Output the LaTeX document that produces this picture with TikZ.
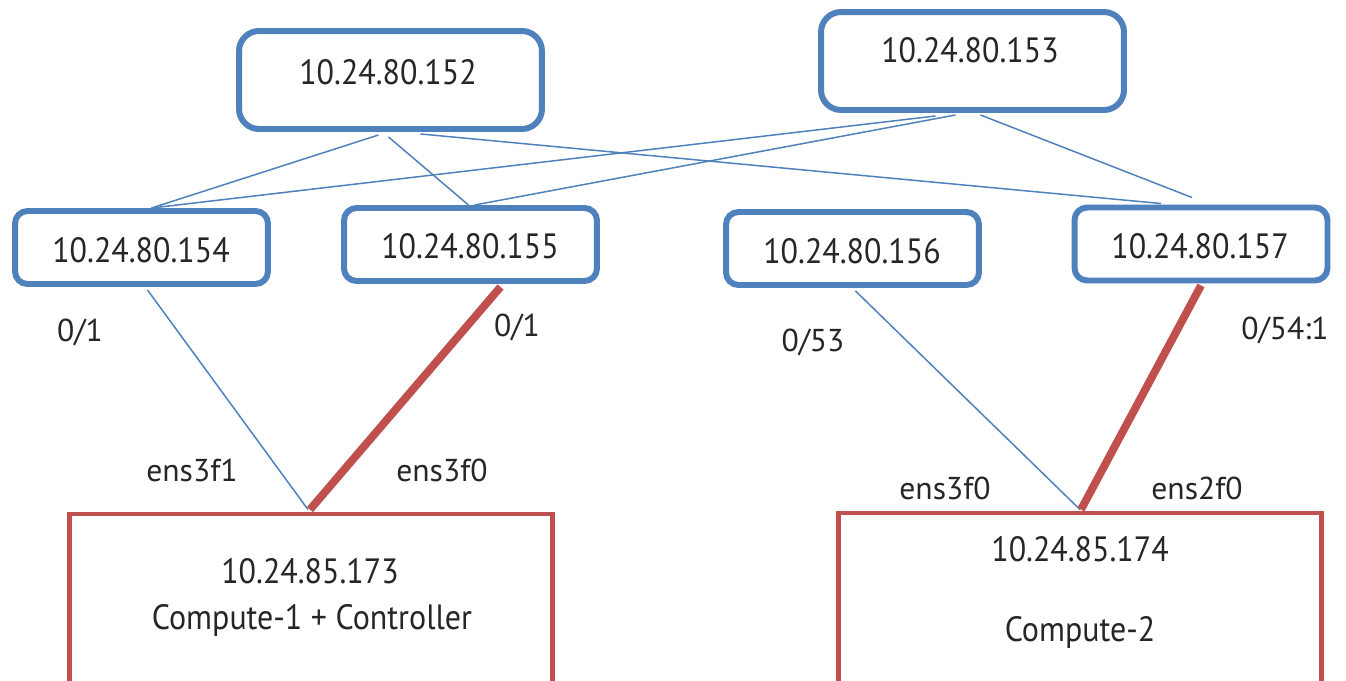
\documentclass[tikz,border=0pt]{standalone}
\usepackage{fontspec}
\setmainfont[FakeStretch=0.91]{PT Sans}
\newfontfamily\lblfont{PT Sans}
\usetikzlibrary{calc}
\definecolor{boxblue}{HTML}{4F81BD}
\definecolor{boxred}{HTML}{C0504D}
\definecolor{txt}{HTML}{262626}
\tikzset{
  swbig/.style={draw=boxblue, line width=3.4pt, rounded corners=0.4cm, fill=white, minimum width=6.06cm, minimum height=1.96cm, inner sep=0pt},
  swsmall/.style={draw=boxblue, line width=3.4pt, rounded corners=0.25cm, fill=white, minimum width=5.06cm, minimum height=1.46cm, inner sep=0pt},
  host/.style={draw=boxred, line width=2.8pt, minimum width=9.66cm, minimum height=4.12cm, inner sep=0pt},
  iptext/.style={font=\fontsize{20}{24}\selectfont, text=txt, inner sep=0pt},
  lbl/.style={font=\lblfont\fontsize{18}{22}\selectfont, text=txt, inner sep=0pt},
  thin/.style={draw=boxblue, line width=0.85pt},
  thick/.style={draw=boxred, line width=4.5pt}
}
\begin{document}
\begin{tikzpicture}[x=0.02cm,y=-0.02cm]
\useasboundingbox (0,0) rectangle (1346,680);
\clip (0,0) rectangle (1346,680);
\fill[white] (0,0) rectangle (1346,680);

% hosts
\node[host] (c1) at (311,617) {};
\node[host] (c2) at (1080,616) {};

% switches
\node[swbig] (n152) at (390.5,80) {};
\node[swbig] (n153) at (972.5,61) {};
\node[swsmall] (n154) at (141.5,247.5) {};
\node[swsmall] (n155) at (470.5,244.5) {};
\node[swsmall] (n156) at (852.5,248.5) {};
\node[swsmall] (n157) at (1201,244) {};

% top mesh
\draw[thin] ($(n152.south)+(-12,3)$) -- ($(n154.north)+(10,0)$);
\draw[thin] ($(n152.south)+(-2,5)$) -- ($(n155.north)+(-2,0)$);
\draw[thin] ($(n152.south)+(30,2)$) -- ($(n157.north)+(-40,-1)$);
\draw[thin] ($(n153.south)+(-37,3)$) -- ($(n154.north)+(10,0)$);
\draw[thin] ($(n153.south)+(-17,2)$) -- ($(n155.north)+(4,0)$);
\draw[thin] ($(n153.south)+(8,2)$) -- ($(n157.north)+(-9,-7)$);

% host links
\draw[thin] ($(n154.south)+(6,3)$) -- ($(c1.north)+(-3,-2)$);
\draw[thick] ($(n155.south)+(30,3)$) -- ($(c1.north)+(-1,-2)$);
\draw[thin] ($(n156.south)+(3,3)$) -- ($(c2.north)+(0,-1)$);
\draw[thick] ($(n157.south)+(0,2)$) -- ($(c2.north)+(1,-1)$);

% texts
\node[iptext] (t152) at (388,72) {10.24.80.152};
\node[iptext] (t153) at (970,50) {10.24.80.153};
\node[iptext] (t154) at (141,250) {10.24.80.154};
\node[iptext] (t155) at (470,246) {10.24.80.155};
\node[iptext] (t156) at (852,251) {10.24.80.156};
\node[iptext] (t157) at (1200,246) {10.24.80.157};
\node[iptext] (t173) at (310,571) {10.24.85.173};
\node[iptext] (tc1) at (312,620) {Compute-1 + Controller};
\node[iptext] (t174) at (1080,549) {10.24.85.174};
\node[iptext] (tc2) at (1080,632) {Compute-2};

% port labels
\node[lbl] (p1) at (80,332) {0/1};
\node[lbl] (p2) at (517,327) {0/1};
\node[lbl] (p3) at (813,342) {0/53};
\node[lbl] (p4) at (1285,330) {0/54:1};
\node[lbl] (e1) at (192,470) {ens3f1};
\node[lbl] (e2) at (442,470) {ens3f0};
\node[lbl] (e3) at (945,488) {ens3f0};
\node[lbl] (e4) at (1197,488) {ens2f0};
\end{tikzpicture}
\end{document}
